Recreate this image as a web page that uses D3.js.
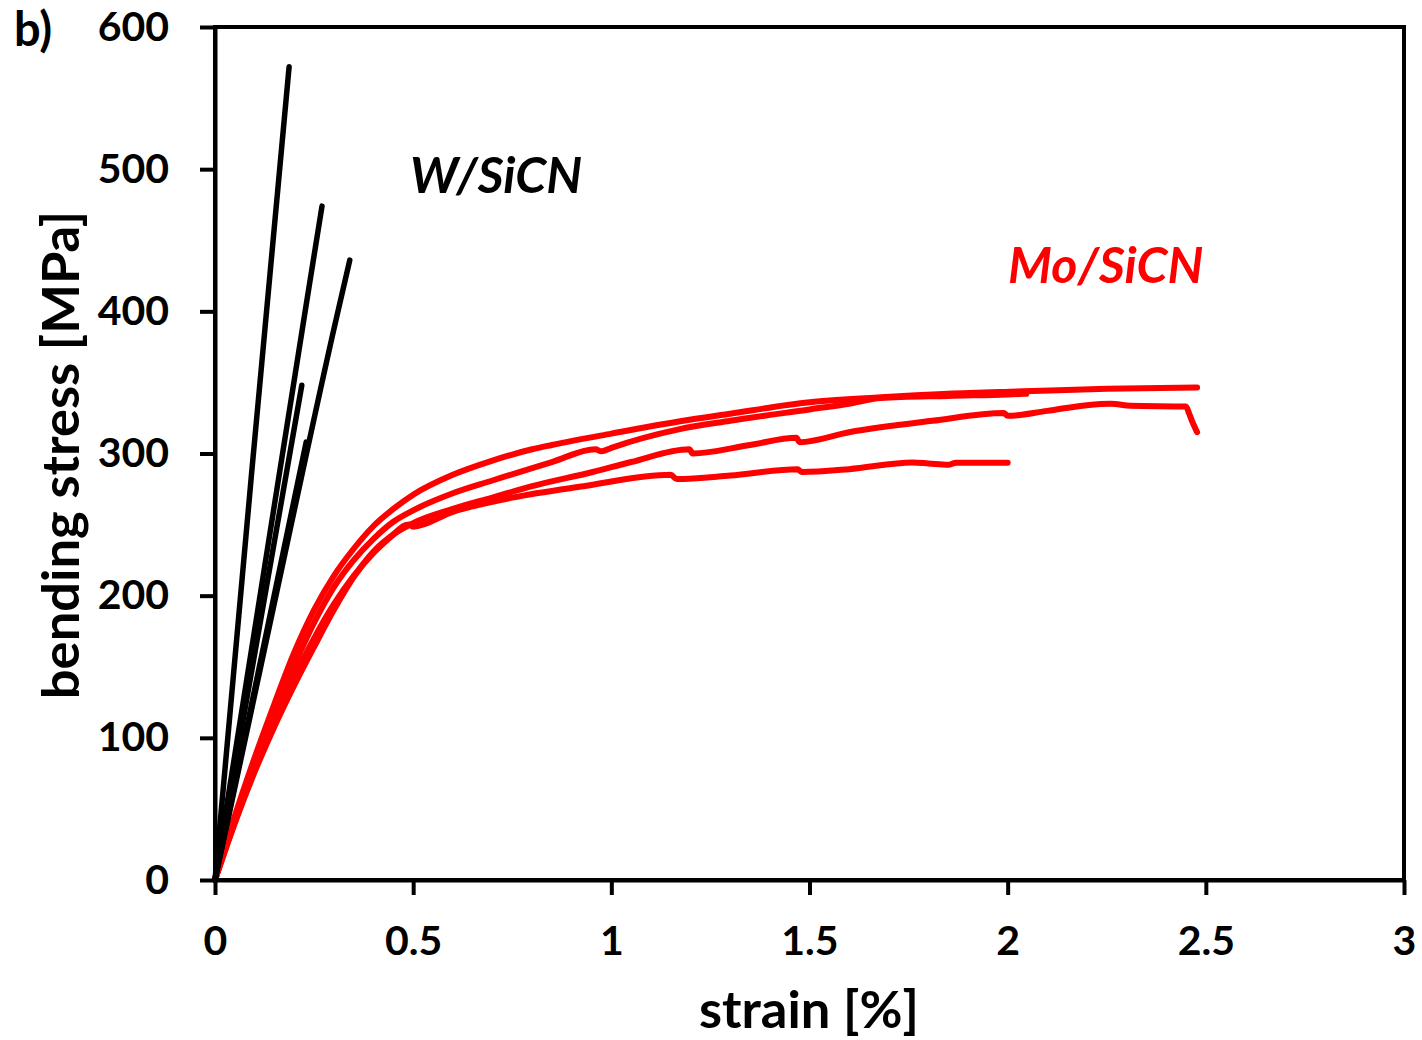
<!DOCTYPE html>
<html>
<head>
<meta charset="utf-8">
<script src="https://cdn.jsdelivr.net/npm/d3@7/dist/d3.min.js"></script>
<style>
  html, body { margin: 0; padding: 0; background: #fff; }
  svg { display: block; }
  text { font-family: Lato, "Open Sans", sans-serif; font-weight: bold; fill: #000; }
</style>
</head>
<body>
<svg id="chart" width="1422" height="1040"></svg>
<script>
// Axis ticks
const xTicks = [0, 0.5, 1, 1.5, 2, 2.5, 3];
const yTicks = [0, 100, 200, 300, 400, 500, 600];

// W/SiCN specimens: [strain %, bending stress MPa]
const wSpecimen1 = [[0, 0], [0.092, 285], [0.187, 572]];
const wSpecimen2 = [[0, 0], [0.112, 197], [0.232, 408], [0.27, 474]];
const wSpecimen3 = [[0, 0], [0.15, 195], [0.302, 390], [0.34, 436]];
const wSpecimen4 = [[0, 0], [0.124, 197], [0.219, 348]];
const wSpecimen5 = [[0, 0], [0.147, 197], [0.23, 308]];

// Mo/SiCN specimens: [strain %, bending stress MPa]
const moSpecimen1 = [[0, 0], [0.05, 45], [0.1, 86], [0.15, 124], [0.2, 160], [0.25, 190], [0.3, 214],
  [0.35, 233], [0.4, 249], [0.45, 261], [0.5, 271], [0.6, 285], [0.7, 295], [0.8, 303], [0.85, 306],
  [1.0, 314], [1.17, 322.5], [1.3, 328], [1.5, 336], [1.68, 339.5], [1.85, 342], [2.04, 343.7],
  [2.25, 345.5], [2.478, 346.5]];
const moSpecimen2 = [[0, 0], [0.05, 43], [0.1, 82], [0.15, 118], [0.2, 151], [0.25, 181], [0.3, 206],
  [0.35, 225], [0.4, 240], [0.45, 252], [0.5, 260], [0.6, 272], [0.7, 281], [0.85, 294], [0.96, 303],
  [0.975, 301.5], [1.0, 304], [1.17, 317], [1.3, 323], [1.5, 331], [1.6, 335], [1.68, 339],
  [1.85, 340.5], [2.0, 341.5], [2.047, 342]];
const moSpecimen3 = [[0, 0], [0.05, 40], [0.1, 76], [0.15, 108], [0.2, 137], [0.25, 164], [0.3, 190],
  [0.35, 213], [0.4, 231], [0.45, 243], [0.5, 251], [0.6, 261], [0.7, 269], [0.8, 277], [0.953, 287],
  [1.05, 294], [1.197, 303], [1.205, 300], [1.35, 306], [1.467, 311], [1.475, 308], [1.6, 315],
  [1.81, 323], [1.99, 328.5], [2.0, 326.5], [2.1, 330], [2.2, 334], [2.26, 335], [2.31, 333.5],
  [2.45, 333], [2.458, 328], [2.465, 323], [2.478, 315]];
const moSpecimen4 = [[0, 0], [0.05, 41], [0.1, 78], [0.15, 112], [0.2, 143], [0.25, 170], [0.3, 194],
  [0.35, 214], [0.4, 230], [0.45, 243], [0.47, 248], [0.49, 250], [0.5, 248.5], [0.6, 259],
  [0.75, 269], [0.93, 277], [1.15, 285], [1.165, 282], [1.3, 284.5], [1.47, 289], [1.48, 287],
  [1.6, 289], [1.76, 293.7], [1.8, 293], [1.85, 292], [1.87, 293.5], [2.0, 293.5]];

const wSeries = [wSpecimen1, wSpecimen2, wSpecimen3, wSpecimen4, wSpecimen5];
const moSeries = [moSpecimen1, moSpecimen2, moSpecimen3, moSpecimen4];

const svg = d3.select("#chart");
const plot = { left: 215, right: 1404, top: 27, bottom: 880 };

const x = d3.scaleLinear().domain([0, 3]).range([plot.left, plot.right]);
const y = d3.scaleLinear().domain([0, 600]).range([plot.bottom, plot.top]);

const line = d3.line().x(d => x(d[0])).y(d => y(d[1])).curve(d3.curveMonotoneX);

// Curves
const curves = svg.append("g");
curves.selectAll("path.mo").data(moSeries).join("path")
  .attr("class", "mo")
  .attr("d", line)
  .attr("fill", "none").attr("stroke", "#ff0000").attr("stroke-width", 6)
  .attr("stroke-linejoin", "round").attr("stroke-linecap", "round");
curves.selectAll("path.w").data(wSeries).join("path")
  .attr("class", "w")
  .attr("d", line)
  .attr("fill", "none").attr("stroke", "#000").attr("stroke-width", 5.5)
  .attr("stroke-linejoin", "round").attr("stroke-linecap", "round");

// Frame
svg.append("rect")
  .attr("x", plot.left).attr("y", plot.top)
  .attr("width", plot.right - plot.left).attr("height", plot.bottom - plot.top)
  .attr("fill", "none").attr("stroke", "#000").attr("stroke-width", 4);

// Axes
const xAxis = svg.append("g")
  .attr("transform", `translate(0,${plot.bottom})`)
  .call(d3.axisBottom(x).tickValues(xTicks).tickSize(15).tickSizeOuter(0).tickPadding(31)
    .tickFormat(d => String(d)));
const yAxis = svg.append("g")
  .attr("transform", `translate(${plot.left},0)`)
  .call(d3.axisLeft(y).tickValues(yTicks).tickSize(15).tickSizeOuter(0).tickPadding(31)
    .tickFormat(d => String(d)));

[xAxis, yAxis].forEach(g => {
  g.select(".domain").attr("stroke", "#000").attr("stroke-width", 4);
  g.selectAll(".tick line").attr("stroke", "#000").attr("stroke-width", 4);
  g.selectAll(".tick text").attr("font-size", 41).attr("font-family", "Lato, sans-serif")
    .attr("font-weight", "bold").attr("fill", "#000");
});

// Axis titles
svg.append("text")
  .attr("x", 809).attr("y", 1028)
  .attr("text-anchor", "middle").attr("font-size", 52.5)
  .text("strain [%]");
svg.append("text")
  .attr("transform", "translate(79,455) rotate(-90)")
  .attr("text-anchor", "middle").attr("font-size", 52.5)
  .text("bending stress [MPa]");

// Panel tag
svg.append("text").attr("x", 14).attr("y", 46).attr("font-size", 47).text("b)");

// Series labels
svg.append("text").attr("x", 410).attr("y", 193).attr("font-size", 50)
  .attr("font-style", "italic").text("W/SiCN");
svg.append("text").attr("x", 1008).attr("y", 283).attr("font-size", 50)
  .attr("font-style", "italic").style("fill", "#ff0000").text("Mo/SiCN");
</script>
</body>
</html>
